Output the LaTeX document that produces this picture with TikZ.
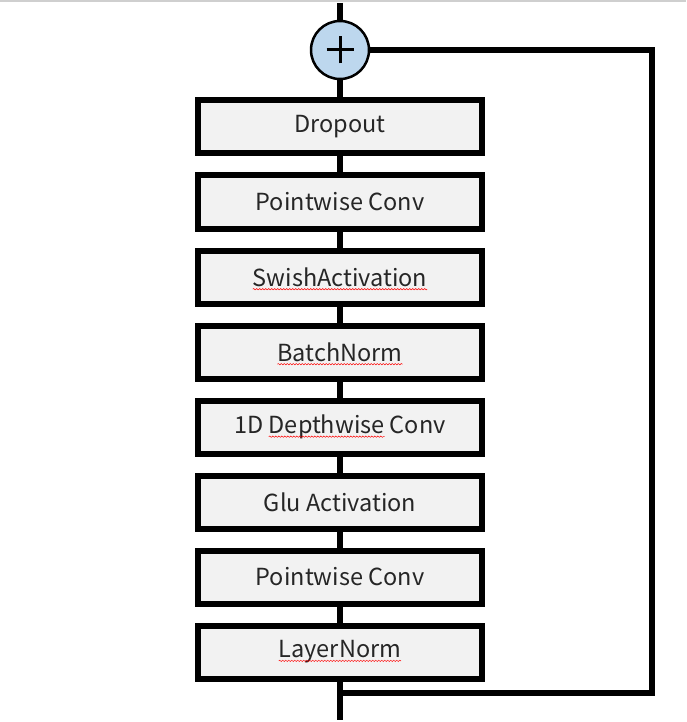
\documentclass[tikz,border=0pt]{standalone}
\usepackage{fontspec}
\setmainfont{Noto Sans CJK JP}
\usetikzlibrary{decorations.pathmorphing}
\definecolor{boxfill}{HTML}{F2F2F2}
\definecolor{circfill}{HTML}{BDD7EE}
\definecolor{txt}{HTML}{262626}
\definecolor{topline}{HTML}{CFCFCF}
\newcommand\wavy[1]{\tikz[baseline=(w.base)]{\node[inner sep=0pt,outer sep=0pt,draw=none,fill=none,minimum width=0pt,minimum height=0pt](w){#1};\draw[overlay,red,line width=0.5pt,decorate,decoration={snake,amplitude=0.7pt,segment length=3pt}]([yshift=-3pt]w.base west)--([yshift=-3pt]w.base east);}}
\begin{document}
\begin{tikzpicture}[x=1pt,y=-1pt,
  blk/.style={draw=black,line width=6pt,fill=boxfill,minimum width=284pt,minimum height=53pt,inner sep=0pt,font=\fontsize{23.5}{26}\selectfont,text=txt},
  wire/.style={line width=6pt}]
\useasboundingbox (0,0) rectangle (686,722);
\fill[white] (0,0) rectangle (686,722);
\draw[topline,line width=2pt] (0,1) -- (686,1);
\node[draw=black,circle,fill=circfill,line width=2.5pt,minimum size=58pt,inner sep=0pt] (add) at (340,50) {};
\draw[line width=3pt] ([xshift=-13.5pt]add.center) -- ([xshift=13.5pt]add.center)
  ([yshift=-13.5pt]add.center) -- ([yshift=13.5pt]add.center);
\node[blk] (b1) at (340,127) {Dropout};
\node[blk] (b2) at (340,202) {Pointwise Conv};
\node[blk] (b3) at (340,277) {\wavy{SwishActivation}};
\node[blk] (b4) at (340,352) {\wavy{BatchNorm}};
\node[blk] (b5) at (340,427) {1D \wavy{Depthwise} Conv};
\node[blk] (b6) at (340,502) {Glu Activation};
\node[blk] (b7) at (340,577) {Pointwise Conv};
\node[blk] (b8) at (340,652) {\wavy{LayerNorm}};
\coordinate (top) at (340,3);
\coordinate (bot) at (340,720);
\coordinate (split) at (340,693);
\coordinate (c1) at (652,693);
\coordinate (c2) at (652,50);
\draw[wire] (top) -- (add);
\draw[wire] (add) -- (b1);
\draw[wire] (b1) -- (b2);
\draw[wire] (b2) -- (b3);
\draw[wire] (b3) -- (b4);
\draw[wire] (b4) -- (b5);
\draw[wire] (b5) -- (b6);
\draw[wire] (b6) -- (b7);
\draw[wire] (b7) -- (b8);
\draw[wire] (b8) -- (bot);
\draw[wire] (split) -- (c1) -- (c2) -- (add.east);
\end{tikzpicture}
\end{document}
